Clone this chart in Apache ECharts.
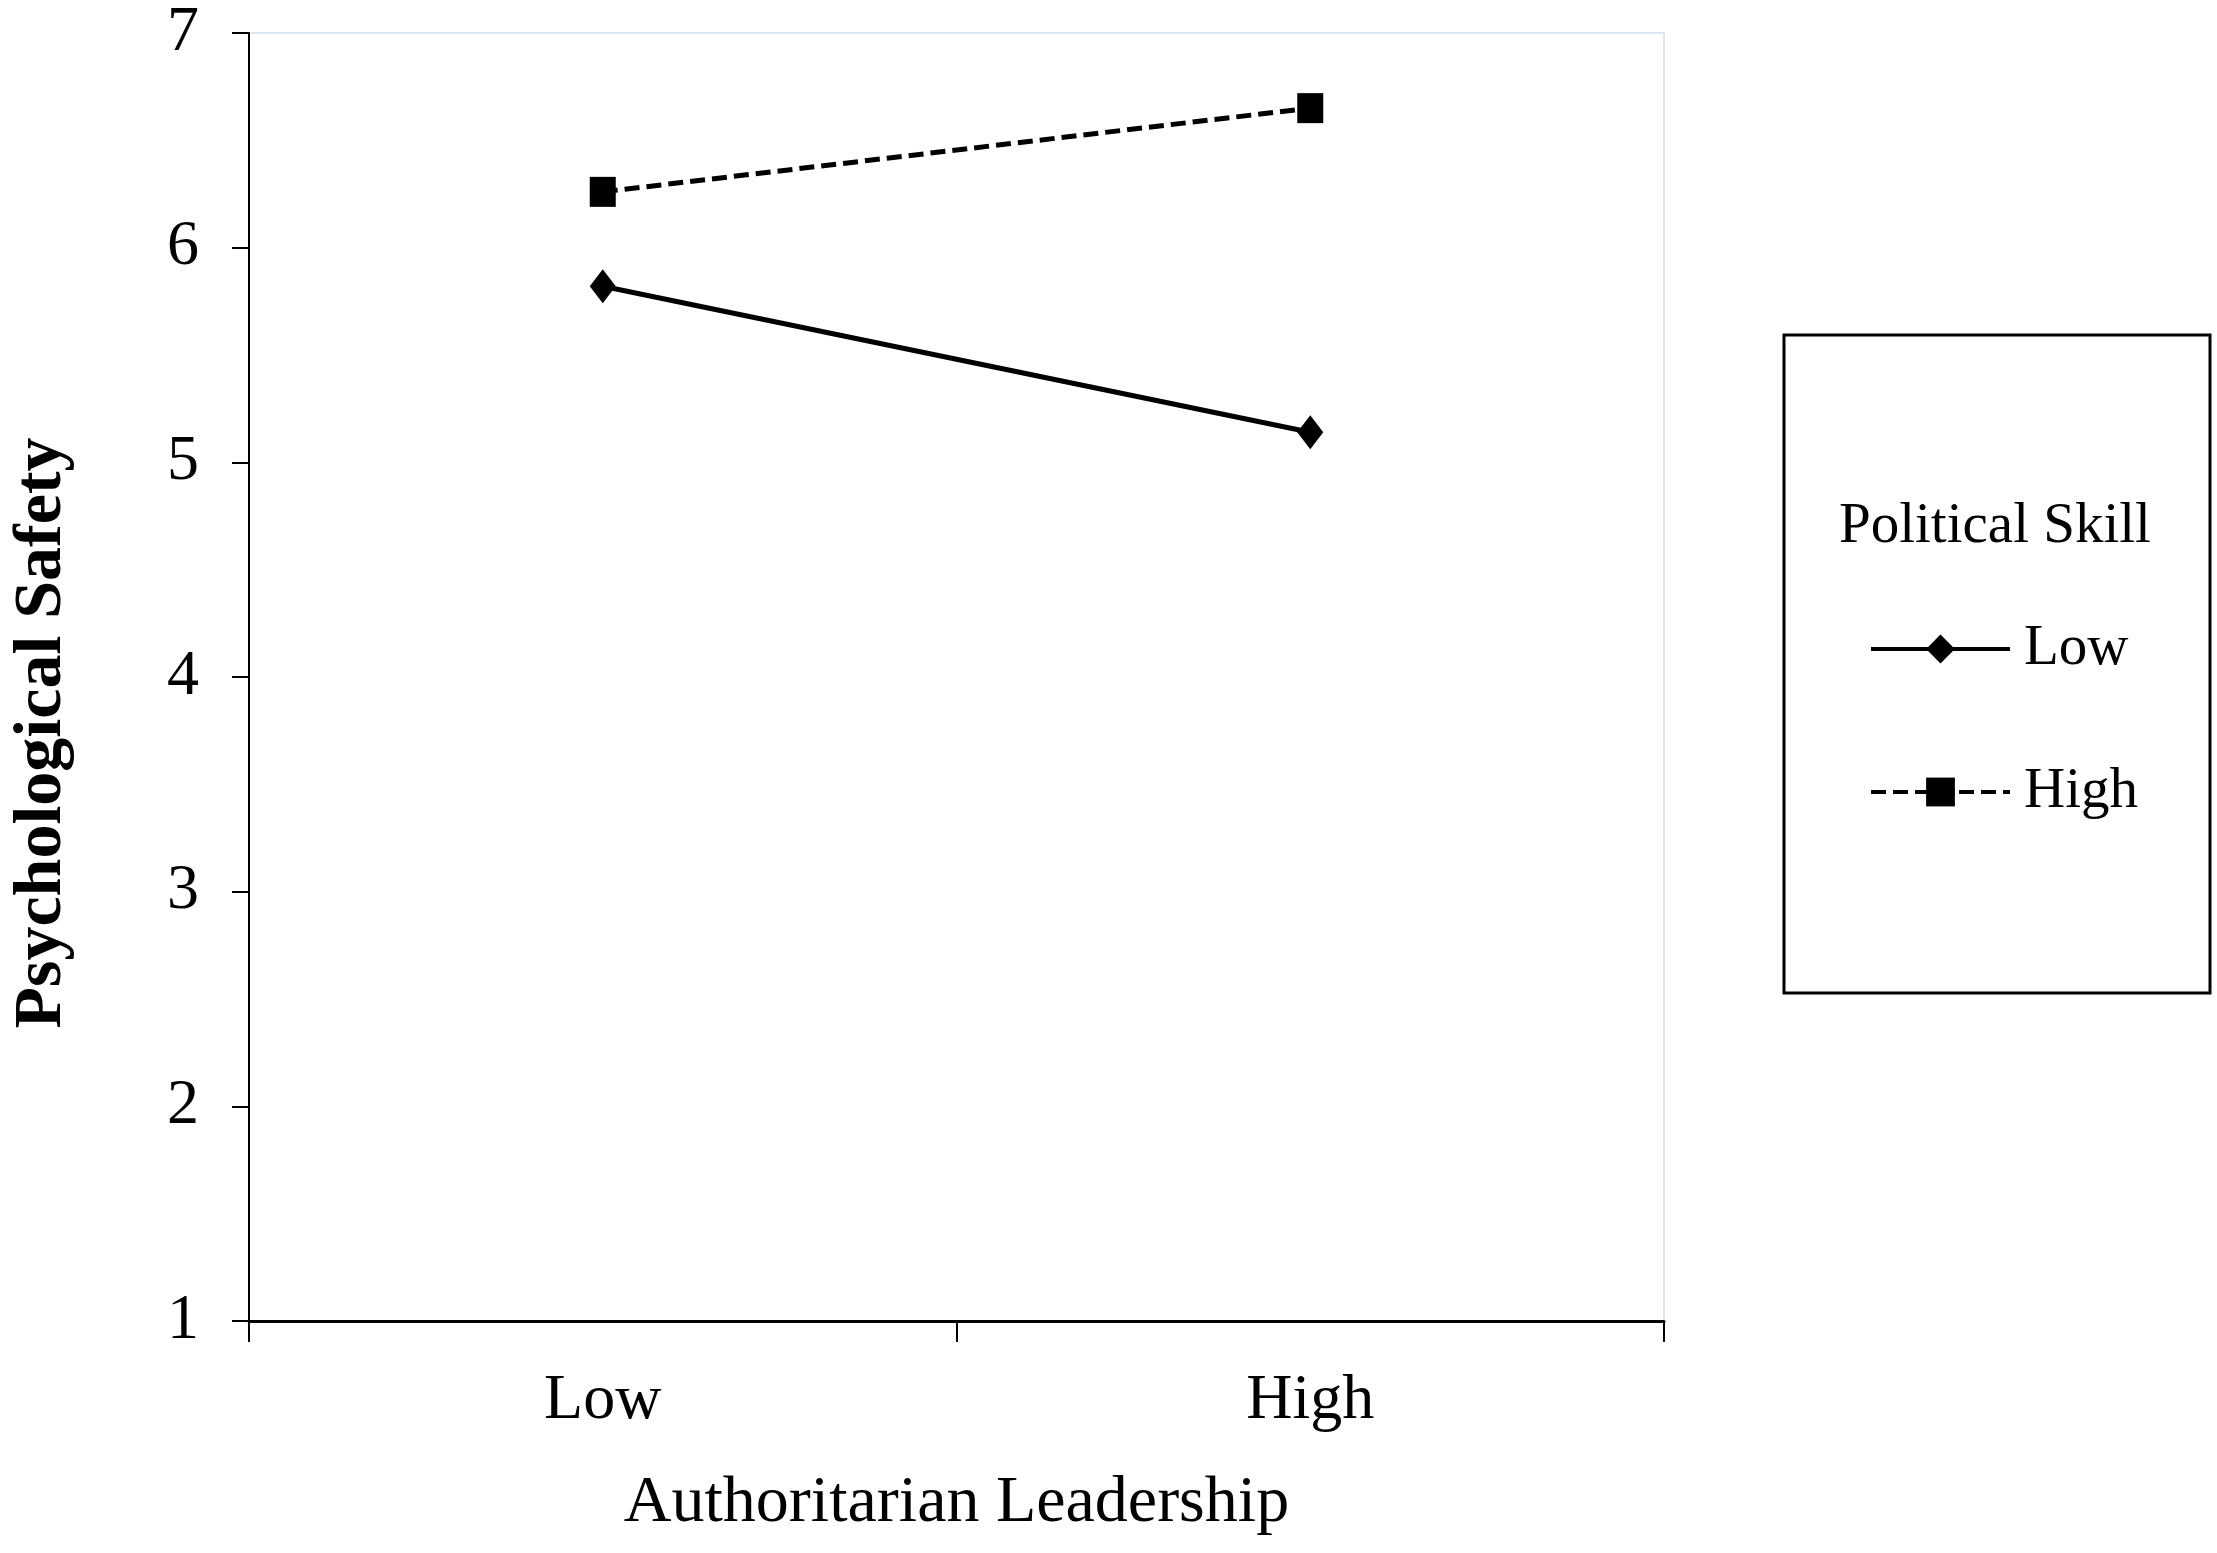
<!DOCTYPE html>
<html>
<head>
<meta charset="utf-8">
<title>Psychological Safety</title>
<script src="https://cdn.jsdelivr.net/npm/echarts@6/dist/echarts.min.js"></script>
<style>
    html, body { margin: 0; padding: 0; background: #fff; }
    #main { width: 2217px; height: 1553px; }
</style>
</head>
<body>
<div id="main"></div>
<script>
// 資料
var categories = ['Low', 'High'];
var lowSkill = [5.82, 5.14];
var highSkill = [6.26, 6.65];
var seriesNames = ['Low', 'High'];

var serif = '"Liberation Serif", "Times New Roman", serif';

var chart = echarts.init(document.getElementById('main'));

var option = {
    backgroundColor: '#fff',
    animation: false,
    title: {
        text: 'Political Skill',
        left: 1834,
        top: 492,
        textStyle: {
            fontFamily: serif,
            fontSize: 57,
            fontWeight: 'normal',
            lineHeight: 60,
            color: '#000'
        }
    },
    legend: {
        orient: 'vertical',
        left: 1784,
        top: 335,
        padding: [284, 72, 171, 85],
        borderColor: '#000',
        borderWidth: 3,
        itemWidth: 139,
        itemHeight: 36,
        itemGap: 83,
        data: seriesNames,
        lineStyle: { width: 4 },
        textStyle: {
            fontFamily: serif,
            fontSize: 57,
            lineHeight: 60,
            color: '#000',
            padding: [0, 0, 0, 9]
        }
    },
    grid: {
        left: 243,
        right: 553,
        top: 33,
        bottom: 232,
        show: true,
        borderColor: '#d9e7f4',
        borderWidth: 2,
        backgroundColor: '#fff'
    },
    xAxis: {
        type: 'category',
        data: categories,
        boundaryGap: true,
        name: 'Authoritarian Leadership',
        nameLocation: 'middle',
        nameGap: 150,
        nameTextStyle: {
            fontFamily: serif,
            fontSize: 66,
            color: '#000'
        },
        axisLine: { lineStyle: { color: '#000', width: 3 } },
        axisTick: { show: true, length: 21, lineStyle: { color: '#000', width: 2 } },
        axisLabel: {
            fontFamily: serif,
            fontSize: 64,
            color: '#000',
            margin: 48
        },
        splitLine: { show: false }
    },
    yAxis: {
        type: 'value',
        min: 1,
        max: 7,
        interval: 1,
        name: 'Psychological Safety',
        nameLocation: 'middle',
        nameGap: 173,
        nameTextStyle: {
            fontFamily: serif,
            fontSize: 68,
            fontWeight: 'bold',
            color: '#000',
            padding: [0, 112, 0, 0]
        },
        axisLine: { show: true, lineStyle: { color: '#000', width: 2 } },
        axisTick: { show: true, length: 17, lineStyle: { color: '#000', width: 2 } },
        axisLabel: {
            fontFamily: serif,
            fontSize: 64,
            color: '#000',
            margin: 50
        },
        splitLine: { show: false }
    },
    series: [
        {
            name: seriesNames[0],
            type: 'line',
            data: lowSkill,
            symbol: 'diamond',
            symbolSize: [26, 34],
            lineStyle: { color: '#000', width: 5, type: 'solid' },
            itemStyle: { color: '#000' }
        },
        {
            name: seriesNames[1],
            type: 'line',
            data: highSkill,
            symbol: 'rect',
            symbolSize: [26, 30],
            lineStyle: { color: '#000', width: 5, type: [15, 7] },
            itemStyle: { color: '#000' }
        }
    ]
};

chart.setOption(option);
</script>
</body>
</html>
